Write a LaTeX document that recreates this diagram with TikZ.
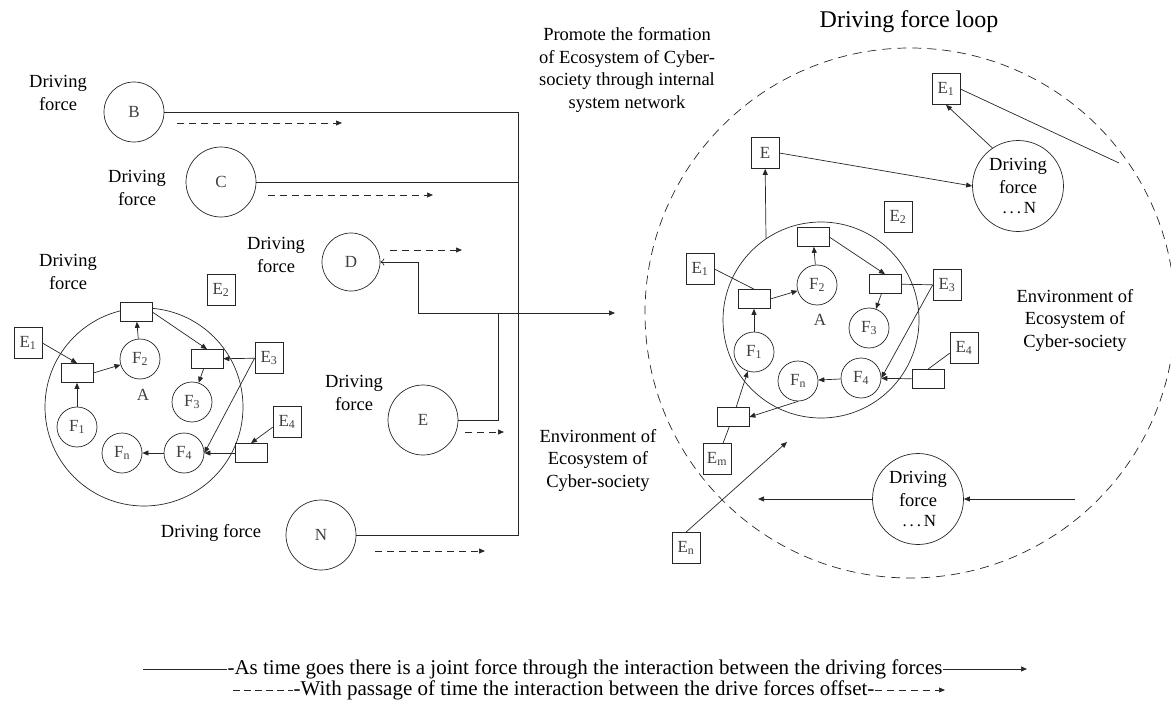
\documentclass[tikz,border=0pt]{standalone}
\usepackage{fontspec}
\setmainfont{Liberation Serif}
\usetikzlibrary{arrows.meta}
\newcommand\lblfont{\fontsize{18.5}{22.5}\selectfont}
\newcommand\boxfont{\fontsize{17}{19}\selectfont}
\newcommand\titlefont{\fontsize{24}{27}\selectfont}
\newcommand\legfont{\fontsize{21}{22}\selectfont}

\begin{document}
\begin{tikzpicture}[x=1pt,y=-1pt,line width=0.7pt,draw=black!85,
    arr/.style={-{Triangle[length=6pt,width=5pt]}},
    lagarr/.style={arr,dash pattern=on 7pt off 5pt},
    force/.style={circle,draw,inner sep=0pt,font=\boxfont,text=black!75},
    ebox/.style={draw,fill=white,minimum width=28pt,minimum height=31pt,inner sep=0pt,font=\boxfont,text=black!75},
    slot/.style={draw,fill=white,minimum width=32pt,minimum height=19pt,inner sep=0pt},
    fcirc/.style={circle,draw,fill=white,minimum size=40pt,inner sep=0pt,font=\boxfont,text=black!75},
    lbl/.style={align=center,font=\lblfont}]
  \useasboundingbox (0,0) rectangle (1171,717);

  % Driving forces B, C, D, E, N
  \node[lbl] (lB) at (58,93) {Driving\\force};
  \node[force,minimum size=60pt] (B) at (134,112) {B};
  \node[lbl] (lC) at (137,188) {Driving\\force};
  \node[force,minimum size=70pt] (C) at (221,182) {C};
  \node[lbl] (lD) at (276,255) {Driving\\force};
  \node[force,minimum size=58pt] (D) at (351,262) {D};
  \node[lbl] (lE) at (354,393) {Driving\\force};
  \node[force,minimum size=70pt] (E) at (423,420) {E};
  \node[lbl] (lN) at (211,533) {Driving force};
  \node[force,minimum size=70pt] (N) at (321,535) {N};

  % Joint lines
  \coordinate (bustop) at (518,112);
  \coordinate (busbot) at (518,535);
  \coordinate (dret) at (418,313);
  \coordinate (ejoin) at (498,313);
  \coordinate (out) at (615,313);
  \draw (B) -- (bustop) -- (busbot) -- (N);
  \draw (C) -- (C -| bustop);
  \draw[arr] (dret) -- (out);
  \draw[-{To[length=4pt,width=7pt]}] (dret) |- (D);
  \draw (E) -| (ejoin);

  % Offset lines
  \coordinate (bo1) at (177,123); \coordinate (bo2) at (342,123);
  \coordinate (co1) at (268,195); \coordinate (co2) at (433,195);
  \coordinate (do1) at (390,250); \coordinate (do2) at (462,250);
  \coordinate (eo1) at (465,432); \coordinate (eo2) at (504,432);
  \coordinate (no1) at (375,551); \coordinate (no2) at (485,551);
  \draw[lagarr] (bo1) -- (bo2);
  \draw[lagarr] (co1) -- (co2);
  \draw[lagarr] (do1) -- (do2);
  \draw[lagarr] (eo1) -- (eo2);
  \draw[lagarr] (no1) -- (no2);

  % Driving force A
  \node[lbl] (lA) at (68,272) {Driving\\force};
  \node[circle,draw,minimum size=198pt] (Al) at (144,407) {};
  \node[font=\boxfont,text=black!75] (al) at (143,395) {A};
  \node[ebox] (E1l) at (28,343) {E\textsubscript{1}};
  \node[ebox] (E2l) at (221,290) {E\textsubscript{2}};
  \node[ebox] (E3l) at (269,358) {E\textsubscript{3}};
  \node[ebox] (E4l) at (287,422) {E\textsubscript{4}};
  \node[slot] (r1l) at (77,373) {};
  \node[slot] (r2l) at (136,312) {};
  \node[slot] (r3l) at (207,359) {};
  \node[slot] (r4l) at (251,453) {};
  \node[fcirc] (F1l) at (77,427) {F\textsubscript{1}};
  \node[fcirc] (F2l) at (140,359) {F\textsubscript{2}};
  \node[fcirc] (F3l) at (192,402) {F\textsubscript{3}};
  \node[fcirc] (F4l) at (184,453) {F\textsubscript{4}};
  \node[fcirc] (Fnl) at (122,453) {F\textsubscript{n}};
  \draw[arr] (E1l.east) -- (r1l.north);
  \draw[arr] (F1l) -- (r1l);
  \draw[arr] (r1l.east) -- (F2l);
  \draw[arr] (F2l) -- (r2l);
  \draw[arr] (r2l.east) -- (r3l.north);
  \draw[arr] (E3l) -- (r3l);
  \draw[arr] (r3l) -- (F3l);
  \draw[arr] (E3l.west) -- (F4l.east);
  \draw[arr] (r4l) -- (F4l);
  \draw[arr] (E4l.200) -- (r4l.north);
  \draw[arr] (F4l) -- (Fnl);

  % Texts in the middle
  \node[lbl] (promo) at (627,70) {Promote the formation\\of Ecosystem of Cyber-\\society through internal\\system network};
  \node[lbl] (envl) at (598,460) {Environment of\\Ecosystem of\\Cyber-society};
  \node[font=\titlefont] (title) at (909,22) {Driving force loop};

  % Driving force loop
  \draw[dashed,dash pattern=on 9pt off 6pt] (910,313) circle (265pt);
  \node[lbl] (envr) at (1075,320) {Environment of\\Ecosystem of\\Cyber-society};
  \node[circle,draw,minimum size=196pt] (Ar) at (821,320) {};
  \node[font=\boxfont,text=black!75] (ar) at (820,320) {A};
  \node[ebox] (Er) at (765,153) {E};
  \node[ebox] (E1t) at (946,89) {E\textsubscript{1}};
  \node[ebox] (E2r) at (898,217) {E\textsubscript{2}};
  \node[ebox] (E1r) at (700,269) {E\textsubscript{1}};
  \node[ebox] (E3r) at (947,285) {E\textsubscript{3}};
  \node[ebox] (E4r) at (964,348) {E\textsubscript{4}};
  \node[ebox] (Emr) at (717,459) {E\textsubscript{m}};
  \node[ebox] (Enr) at (686,548) {E\textsubscript{n}};
  \node[slot] (r1r) at (754,299) {};
  \node[slot] (r2r) at (813,237) {};
  \node[slot] (r3r) at (885,284) {};
  \node[slot] (r4r) at (928,379) {};
  \node[slot] (r5r) at (733,417) {};
  \node[fcirc] (F1r) at (754,352) {F\textsubscript{1}};
  \node[fcirc] (F2r) at (817,285) {F\textsubscript{2}};
  \node[fcirc] (F3r) at (869,328) {F\textsubscript{3}};
  \node[fcirc] (F4r) at (861,378) {F\textsubscript{4}};
  \node[fcirc] (Fnr) at (798,381) {F\textsubscript{n}};
  \node[circle,draw,fill=white,minimum size=91pt,inner sep=0pt,lbl] (DFt) at (1018,186) {Driving\\force\\[-2pt]{\boxfont\,.\,.\,.\,N}};
  \node[circle,draw,fill=white,minimum size=91pt,inner sep=0pt,lbl] (DFb) at (918,499) {Driving\\force\\[-2pt]{\boxfont\,.\,.\,.\,N}};
  \coordinate (tail) at (1119,163);
  \coordinate (inb) at (1075,499);
  \coordinate (outb) at (758,499);
  \coordinate (enend) at (787,442);
  \draw[arr] (Ar.124) -- (Er);
  \draw[arr] (Er.east) -- (DFt.west);
  \draw[arr] (DFt.124) -- (E1t.south);
  \draw (E1t.east) -- (tail);
  \draw (E1r.east) -- (r1r.north);
  \draw[arr] (F1r) -- (r1r);
  \draw[arr] (r1r.east) -- (F2r);
  \draw[arr] (F2r) -- (r2r);
  \draw[arr] (r2r.east) -- (r3r.north);
  \draw (E3r) -- (r3r);
  \draw[arr] (r3r) -- (F3r);
  \draw[arr] (E3r.west) -- (F4r.east);
  \draw[arr] (r4r) -- (F4r);
  \draw (E4r.200) -- (r4r.north);
  \draw[arr] (F4r) -- (Fnr);
  \draw[arr] (Fnr.south) -- (r5r.east);
  \draw (Emr) -- (r5r);
  \draw[arr] (r5r) -- (F1r);
  \draw[arr] (Enr.north) -- (enend);
  \draw[arr] (inb) -- (DFb);
  \draw[arr] (DFb) -- (outb);

  % Legend
  \node[font=\legfont,inner sep=0pt] (leg1) at (585,669) {-As time goes there is a joint force through the interaction between the driving forces};
  \node[font=\legfont,inner sep=0pt] (leg2) at (584,690) {-With passage of time the interaction between the drive forces offset-};
  \coordinate (l1a) at (143,669); \coordinate (l1b) at (1027,669);
  \coordinate (l2a) at (233,690); \coordinate (l2b) at (945,690);
  \draw (l1a) -- (leg1);
  \draw[arr] (leg1) -- (l1b);
  \draw[dash pattern=on 7pt off 4pt] (l2a) -- (leg2);
  \draw[lagarr] (leg2) -- (l2b);
\end{tikzpicture}
\end{document}
